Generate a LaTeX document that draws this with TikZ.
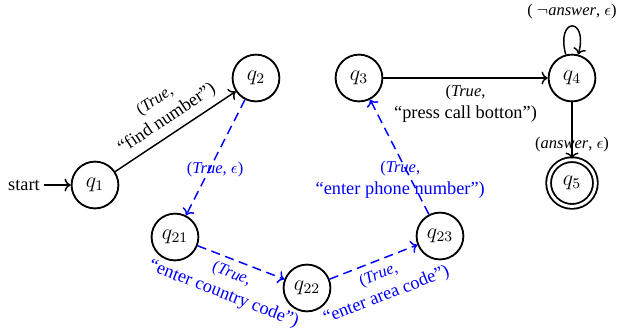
\documentclass[tikz,border=0pt]{standalone}
\usepackage{amsmath}
\usepackage{amssymb}
\usepackage{fontspec}
\setmainfont{Liberation Serif}
\usetikzlibrary{arrows.meta}

\tikzset{
  qstate/.style={circle, draw, line width=1pt, minimum size=25.5pt, inner sep=0pt, font=\large},
  qaccept/.style={qstate, double, double distance=1.6pt},
  move/.style={->, thick},
  guess/.style={->, thick, blue, dash pattern=on 5pt off 3pt},
}

\begin{document}
\begin{tikzpicture}

\useasboundingbox (0, 0) rectangle (11.835, 6.358);

\node [qstate] (q_1) at (1.819, 2.815) {$q_1$};
\node [qstate] (q_2) at (4.902, 4.864) {$q_2$};
\node [qstate] (q_3) at (6.875, 4.864) {$q_3$};
\node [qstate] (q_4) at (10.954, 4.864) {$q_4$};
\node [qaccept] (q_5) at (10.954, 2.853) {$q_5$};
\node [qstate] (q_21) at (3.351, 1.819) {$q_{21}$};
\node [qstate] (q_22) at (5.879, 0.843) {$q_{22}$};
\node [qstate] (q_23) at (8.426, 1.838) {$q_{23}$};
\node [inner sep=2pt] (start) at (0.46, 2.815) {start};

\draw[move] (start)--(q_1);
\draw[move] (q_1)-- node[sloped, above, align=center] {{\small (\textit{True},}\\``find number'')} (q_2);
\draw[move] (q_3)-- node[below, align=center] {{\small (\textit{True},}\\``press call botton'')} (q_4);
\draw[move] (q_4) to[loop above] node[above] {\small ( $\neg$\textit{answer}, $\epsilon$)} ();
\draw[move] (q_4)-- node[pos=0.75] {\small (\textit{answer}, $\epsilon$)} (q_5);

\draw[guess] (q_2)-- node[pos=0.6, xshift=3pt] {\small (\textit{True}, $\epsilon$)} (q_21);
\draw[guess] (q_21)-- node[pos=0.45, sloped, below, align=center] {{\small (\textit{True},}\\``enter country code'')} (q_22);
\draw[guess] (q_22)-- node[sloped, below, align=center] {{\small (\textit{True},}\\``enter area code'')} (q_23);
\draw[guess] (q_23)-- node[pos=0.3, xshift=-6pt, align=center] {{\small (\textit{True},}\\``enter phone number'')} (q_3);

\end{tikzpicture}
\end{document}
